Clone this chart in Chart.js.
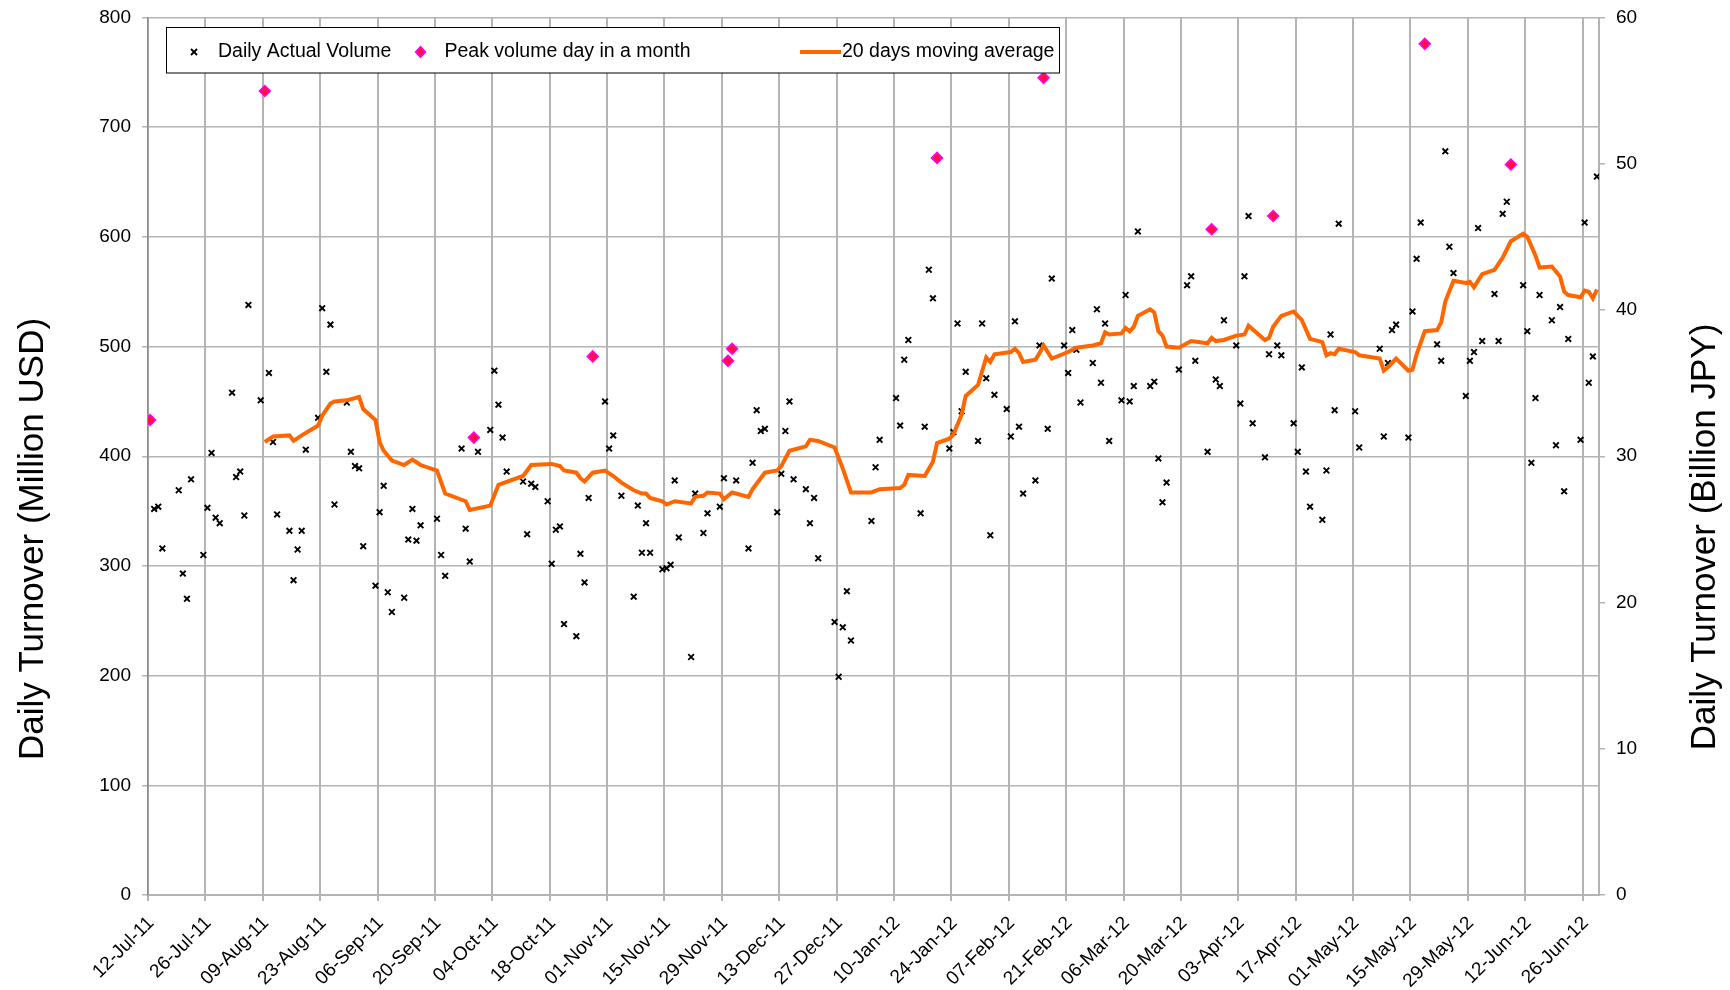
<!DOCTYPE html>
<html>
<head>
<meta charset="utf-8">
<title>Daily Turnover</title>
<script src="https://cdn.jsdelivr.net/npm/chart.js@4.4.1/dist/chart.umd.min.js"></script>
<style>
  html, body { margin: 0; padding: 0; background: #fff; }
  #wrap { width: 1730px; height: 990px; }
</style>
</head>
<body>
<div id="wrap"><canvas id="turnoverChart" width="1730" height="990"></canvas></div>
<script>
// trading days: weekdays from 12-Jul-11 to 29-Jun-12, minus Tokyo market holidays
const firstDay = '2011-07-12';
const lastDay = '2012-06-29';
const marketHolidays = ['2011-07-18', '2011-09-19', '2011-09-23', '2011-10-10', '2011-11-03',
  '2011-11-23', '2011-12-23', '2012-01-02', '2012-01-03', '2012-01-09', '2012-03-20',
  '2012-04-30', '2012-05-03', '2012-05-04'];

// daily actual volume (million USD), one value per trading day
const dailyVolume = [
  // Jul-11
  433, 352, 354, 316, 369, 293, 270, 379, 310, 353, 403, 344, 339,
  // Aug-11
  458, 381, 386, 346, 538, 451, 733, 476, 413, 347, 332, 287, 315, 332, 406,
  435, 535, 477, 520, 356, 449, 404, 391,
  // Sep-11
  389, 318, 282, 349, 373, 276, 258, 271, 324, 352, 323, 337, 343, 310, 291,
  407, 334, 304, 417, 404,
  // Oct-11
  424, 478, 447, 417, 386, 377, 329, 375, 372, 359, 302, 333, 336, 247, 236,
  311, 285, 362, 491, 450,
  // Nov-11
  407, 419, 364, 272, 355, 312, 339, 312, 297, 298, 301, 378, 326, 217, 366,
  330, 348, 354, 380, 487,
  // Dec-11
  498, 378, 316, 394, 442, 423, 425, 349, 384, 423, 450, 379, 370, 339, 362,
  307, 249, 199, 244, 277, 232,
  // Jan-12
  341, 390, 415, 453, 428, 488, 506, 348, 427, 570, 544, 672, 407, 422, 521,
  441, 477, 414, 521,
  // Feb-12
  471, 328, 456, 443, 418, 523, 427, 366, 378, 501, 745, 425, 562, 501, 476,
  515, 497, 449, 485, 534, 467,
  // Mar-12
  521, 414, 451, 547, 450, 464, 605, 464, 468, 398, 358, 376, 479, 556, 564,
  487, 404, 607, 470, 464, 524,
  // Apr-12
  501, 448, 564, 619, 430, 399, 493, 619, 501, 492, 430, 404, 481, 386, 354,
  342, 387, 511, 442, 612,
  // May-12
  441, 408, 498, 418, 485, 515, 520, 417, 532, 580, 613, 776, 502, 487, 678,
  591, 567, 455, 487, 495, 608,
  // Jun-12
  505, 548, 505, 621, 632, 666, 556, 514, 394, 453, 547, 524, 410, 536, 368,
  507, 415, 613, 467, 491, 655
];

// peak volume day in each month
const peakDates = ['2011-07-12', '2011-08-09', '2011-09-29', '2011-10-28', '2011-11-30',
  '2011-12-01', '2012-01-20', '2012-02-15', '2012-03-27', '2012-04-11', '2012-05-18',
  '2012-06-08'];
const peakVolume = [433, 733, 417, 491, 487, 498, 672, 745, 607, 619, 776, 666];

// 20 days moving average, one slot per trading day from 09-Aug-11 (null = not read)
const maFirstDate = '2011-08-09';
const movingAverage = [
  // Aug-11
  413, null, 418, null, 419, 414, null, 419, null, 428, 437, null, 448, 450, 451, null, null,
  // Sep-11
  454, 443, 433, 413, 405, null, 396, 392, null, 397, null, 392, 387, null, 366, null, 359, 351, null, null,
  // Oct-11
  355, null, 374, null, null, 382, null, 392, null, null, 393, null, 391, 387, 385, 380, 377, null, 385, 387,
  // Nov-11
  null, 382, 376, 369, null, 366, 366, 362, 359, 356, null, 359, null, 357, 363, 364, 367, 366, 361, null,
  // Dec-11
  367, null, 363, 370, null, null, 385, 387, 391, null, 405, null, 409, 415, null, 414, 408, null, 389, null, 367,
  // Jan-12
  367, null, 370, null, 371, 374, 383, null, 382, null, 395, 412, 416, 420, null, 438, 455, 465, null,
  // Feb-12
  490, 486, 493, null, 495, 498, 494, 486, 488, 494, 501, null, 489, null, 495, null, 499, null, 501, null, 503,
  // Mar-12
  513, 511, 512, 517, 514, 518, 528, 534, 531, 514, 510, 500, 499, null, 505, null, 503, 508, 505, null, 506,
  // Apr-12
  510, null, 511, 519, null, 506, 508, 518, null, 528, 532, null, 524, null, 507, 504, 492, 494, 493, 498,
  // May-12
  495, 492, 489, 478, 481, null, 489, 478, 479, 493, null, 514, 515, 522, 541, null, 560, 558, 559, 554, null,
  // Jun-12
  566, 570, null, 581, null, 596, 603, 600, null, 583, 572, 573, null, 564, 550, 547, 545, 551, 550, 544, 552
];

const usdMax = 800;   // left axis, million USD
const jpyMax = 60;    // right axis, billion JPY
const tickDays = 14;  // one date label every two weeks

const monthNames = ['Jan', 'Feb', 'Mar', 'Apr', 'May', 'Jun', 'Jul', 'Aug', 'Sep', 'Oct', 'Nov', 'Dec'];
const DAY = 86400000;
const t0 = Date.parse(firstDay);

function dayOffset(iso) {
  return Math.round((Date.parse(iso) - t0) / DAY);
}

const tradingDays = [];
for (let t = t0; t <= Date.parse(lastDay); t += DAY) {
  const d = new Date(t);
  const iso = d.toISOString().slice(0, 10);
  const wd = d.getUTCDay();
  if (wd === 0 || wd === 6 || marketHolidays.includes(iso)) continue;
  tradingDays.push(iso);
}
if (tradingDays.length !== dailyVolume.length) {
  console.warn('trading days / values mismatch', tradingDays.length, dailyVolume.length);
}

// excel puts each day's point in the middle of its day slot
const dailyPoints = dailyVolume.map((v, i) => ({ x: dayOffset(tradingDays[i]) + 0.5, y: v }));
const peakPoints = peakVolume.map((v, i) => ({ x: dayOffset(peakDates[i]) + 0.5, y: v }));
const maStart = tradingDays.indexOf(maFirstDate);
const maPoints = movingAverage.map((v, i) => ({ x: dayOffset(tradingDays[maStart + i]) + 0.5, y: v }));

function dateLabel(value) {
  const d = new Date(t0 + value * DAY);
  const dd = String(d.getUTCDate()).padStart(2, '0');
  const yy = String(d.getUTCFullYear()).slice(2);
  return dd + '-' + monthNames[d.getUTCMonth()] + '-' + yy;
}

const FONT = '"Liberation Sans", Arial, sans-serif';
const GRID = '#b4b4b4';

// legend box drawn like the excel one
const legendPlugin = {
  id: 'boxLegend',
  afterDraw(chart) {
    const ctx = chart.ctx;
    ctx.save();
    ctx.fillStyle = '#fff';
    ctx.strokeStyle = '#000';
    ctx.lineWidth = 1;
    ctx.fillRect(166.5, 27.5, 893, 45.5);
    ctx.strokeRect(166.5, 27.5, 893, 45.5);

    const cy = 52;
    // x marker
    ctx.strokeStyle = '#000';
    ctx.lineWidth = 1.8;
    ctx.beginPath();
    ctx.moveTo(191, cy - 3); ctx.lineTo(197, cy + 3);
    ctx.moveTo(197, cy - 3); ctx.lineTo(191, cy + 3);
    ctx.stroke();
    // diamond
    ctx.fillStyle = '#ff1040';
    ctx.strokeStyle = '#ff00ff';
    ctx.lineWidth = 1.5;
    ctx.beginPath();
    ctx.moveTo(420.5, cy - 5.5); ctx.lineTo(425.5, cy); ctx.lineTo(420.5, cy + 5.5); ctx.lineTo(415.5, cy);
    ctx.closePath();
    ctx.fill();
    ctx.stroke();
    // line sample
    ctx.strokeStyle = '#ff6600';
    ctx.lineWidth = 4;
    ctx.beginPath();
    ctx.moveTo(800, cy); ctx.lineTo(841, cy);
    ctx.stroke();

    ctx.fillStyle = '#000';
    ctx.font = '19.5px ' + FONT;
    ctx.textBaseline = 'middle';
    ctx.textAlign = 'left';
    const ds = chart.data.datasets;
    ctx.fillText(ds[2].label, 218, cy);
    ctx.fillText(ds[1].label, 444.5, cy);
    ctx.fillText(ds[0].label, 842, cy);
    ctx.restore();
  }
};

// both axis titles read bottom-to-top, centred a bit below the plot middle
const axisTitlePlugin = {
  id: 'axisTitles',
  afterDraw(chart) {
    const ctx = chart.ctx;
    ctx.save();
    ctx.fillStyle = '#000';
    ctx.font = '35px ' + FONT;
    ctx.textAlign = 'center';
    ctx.textBaseline = 'middle';
    [[33, 539, 'Daily Turnover (Million USD)'], [1705, 537, 'Daily Turnover (Billion JPY)']].forEach(([x, y, txt]) => {
      ctx.save();
      ctx.translate(x, y);
      ctx.rotate(-Math.PI / 2);
      ctx.fillText(txt, 0, 0);
      ctx.restore();
    });
    ctx.restore();
  }
};

Chart.defaults.font.family = FONT;
Chart.defaults.color = '#000';

// fixed scale boxes so the plot area sits where excel put it
function fixVertical(width) {
  return s => { s.width = width; s.paddingTop = 0; s.paddingBottom = 0; };
}

const ctx = document.getElementById('turnoverChart').getContext('2d');
const chart = new Chart(ctx, {
  type: 'scatter',
  data: {
    datasets: [
      {
        type: 'line',
        label: '20 days moving average',
        data: maPoints,
        borderColor: '#ff6600',
        borderWidth: 4,
        pointRadius: 0,
        spanGaps: true,
        tension: 0,
        fill: false,
        order: 0,
        yAxisID: 'y'
      },
      {
        label: 'Peak volume day in a month',
        data: peakPoints,
        pointStyle: 'rectRot',
        pointRadius: 5.5,
        backgroundColor: '#ff1040',
        borderColor: '#ff00ff',
        borderWidth: 1.5,
        order: 1,
        yAxisID: 'y'
      },
      {
        label: 'Daily Actual Volume',
        data: dailyPoints,
        pointStyle: 'crossRot',
        pointRadius: 4,
        borderColor: '#000',
        borderWidth: 1.9,
        order: 2,
        yAxisID: 'y'
      }
    ]
  },
  options: {
    responsive: false,
    animation: false,
    layout: { padding: { top: 17.5, left: 0, right: 0, bottom: 0 } },
    plugins: {
      legend: { display: false },
      tooltip: { enabled: false }
    },
    scales: {
      x: {
        type: 'linear',
        position: 'bottom',
        min: 0,
        max: dayOffset(lastDay) + 1,
        afterFit: s => { s.height = 95; s.paddingLeft = 0; s.paddingRight = 0; },
        grid: { color: GRID, lineWidth: 2, tickLength: 6 },
        border: { color: GRID, width: 2 },
        ticks: {
          stepSize: tickDays,
          includeBounds: false,
          autoSkip: false,
          maxRotation: 45,
          minRotation: 45,
          padding: 11,
          labelOffset: 3,
          font: { size: 19 },
          callback: v => dateLabel(v)
        }
      },
      y: {
        position: 'left',
        min: 0,
        max: usdMax,
        afterFit: fixVertical(148),
        grid: { color: GRID, lineWidth: 1.5, tickLength: 6 },
        border: { color: '#8c8c8c', width: 1.5 },
        ticks: { stepSize: 100, padding: 11, font: { size: 19 } }
      },
      y2: {
        position: 'right',
        min: 0,
        max: jpyMax,
        afterFit: fixVertical(131),
        grid: { drawOnChartArea: false, color: GRID, lineWidth: 1.5, tickLength: 6 },
        border: { color: GRID, width: 2 },
        ticks: { stepSize: 10, padding: 11, font: { size: 19 } }
      }
    }
  },
  plugins: [legendPlugin, axisTitlePlugin]
});
</script>
</body>
</html>
